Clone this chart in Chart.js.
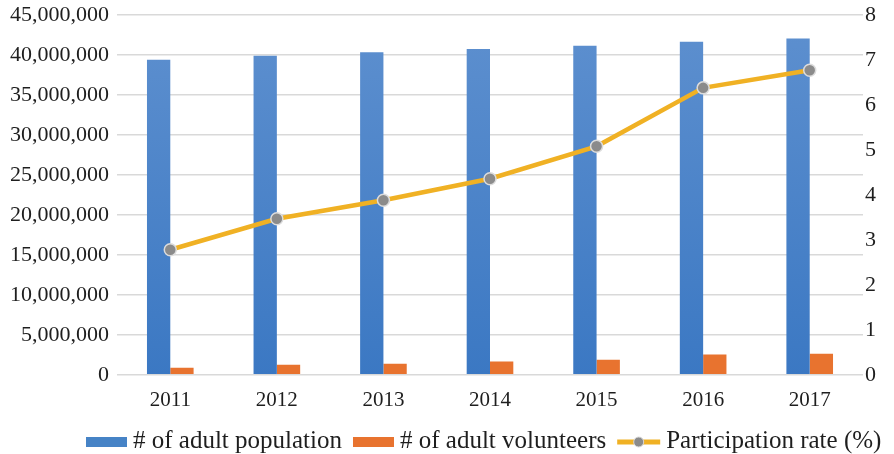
<!DOCTYPE html>
<html>
<head>
<meta charset="utf-8">
<script src="https://cdn.jsdelivr.net/npm/chart.js@4/dist/chart.umd.min.js"></script>
<style>
  html, body { margin: 0; padding: 0; background: #ffffff; }
  #wrap { width: 894px; height: 454px; position: relative; }
</style>
</head>
<body>
<div id="wrap"><canvas id="chart" width="894" height="454"></canvas></div>
<script>
// Adult volunteering, 2011–2017
const years = ['2011', '2012', '2013', '2014', '2015', '2016', '2017'];
const adultPopulation = [39400000, 39900000, 40350000, 40750000, 41150000, 41650000, 42050000];
const adultVolunteers = [880000, 1250000, 1380000, 1670000, 1880000, 2540000, 2630000];
const participationRate = [2.78, 3.47, 3.88, 4.36, 5.08, 6.38, 6.77];
const seriesNames = ['# of adult population', '# of adult volunteers', 'Participation rate (%)'];

const FONT = '"Liberation Serif", "Times New Roman", serif';
const TEXT = '#1e1e1e';
const BLUE = '#4683c6';
const BLUE_TOP = '#5e90cf';
const BLUE_BOTTOM = '#3b78c3';
const ORANGE = '#e8732f';
const GOLD = '#f0b124';
const GREY_PT = '#8b8b8b';

// Vertical shading for the population bars
function blueFill(context) {
  const area = context.chart.chartArea;
  if (!area) return BLUE;
  const g = context.chart.ctx.createLinearGradient(0, area.top, 0, area.bottom);
  g.addColorStop(0, BLUE_TOP);
  g.addColorStop(1, BLUE_BOTTOM);
  return g;
}

// Let the tick labels overhang the plot instead of shrinking it
function fixedWidth(w) {
  return function (scale) {
    scale.width = w;
    scale.paddingTop = 0;
    scale.paddingBottom = 0;
  };
}

// Legend drawn along the bottom: swatch, then label
const bottomLegend = {
  id: 'bottomLegend',
  afterDraw(chart) {
    const c = chart.ctx;
    const ds = chart.data.datasets;
    const items = [
      { text: ds[1].label, kind: 'bar', color: BLUE },
      { text: ds[2].label, kind: 'bar', color: ORANGE },
      { text: ds[0].label, kind: 'line', color: GOLD }
    ];
    const y = 441;
    let x = 86;
    c.save();
    c.font = '25px ' + FONT;
    c.textBaseline = 'middle';
    items.forEach(it => {
      if (it.kind === 'bar') {
        c.fillStyle = it.color;
        c.fillRect(x, y - 4, 41, 10);
      } else {
        c.strokeStyle = it.color;
        c.lineWidth = 5;
        c.beginPath(); c.moveTo(x, y + 1); c.lineTo(x + 43, y + 1); c.stroke();
        c.fillStyle = GREY_PT;
        c.strokeStyle = '#d8d8d8';
        c.lineWidth = 1;
        c.beginPath(); c.arc(x + 21.5, y + 1, 5, 0, Math.PI * 2); c.fill(); c.stroke();
      }
      x += (it.kind === 'bar' ? 41 : 43) + 6;
      c.fillStyle = TEXT;
      c.fillText(it.text, x, y);
      x += c.measureText(it.text).width + 11;
    });
    c.restore();
  }
};

const ctx = document.getElementById('chart').getContext('2d');
new Chart(ctx, {
  type: 'bar',
  data: {
    labels: years,
    datasets: [
      {
        type: 'line',
        label: seriesNames[2],
        data: participationRate,
        yAxisID: 'yRate',
        borderColor: GOLD,
        borderWidth: 4.5,
        pointBackgroundColor: GREY_PT,
        pointBorderColor: '#dcdcdc',
        pointBorderWidth: 1.5,
        pointRadius: 6,
        tension: 0,
        order: 0
      },
      {
        label: seriesNames[0],
        data: adultPopulation,
        yAxisID: 'yCount',
        backgroundColor: blueFill,
        categoryPercentage: 0.4375,
        barPercentage: 1.0,
        order: 1
      },
      {
        label: seriesNames[1],
        data: adultVolunteers,
        yAxisID: 'yCount',
        backgroundColor: ORANGE,
        categoryPercentage: 0.4375,
        barPercentage: 1.0,
        order: 2
      }
    ]
  },
  plugins: [bottomLegend],
  options: {
    responsive: false,
    animation: false,
    layout: { padding: { top: 15, bottom: 36, left: 0, right: 0 } },
    plugins: {
      tooltip: { enabled: false },
      legend: { display: false }
    },
    scales: {
      x: {
        grid: { display: false },
        border: { display: false },
        ticks: { font: { family: FONT, size: 21 }, color: TEXT, padding: 5 }
      },
      yCount: {
        position: 'left',
        min: 0,
        max: 45000000,
        ticks: {
          stepSize: 5000000,
          font: { family: FONT, size: 22 },
          color: TEXT,
          padding: 8,
          callback: v => v.toLocaleString('en-US')
        },
        grid: { color: '#d9d9d9', lineWidth: 1.5, drawTicks: false },
        border: { display: false },
        afterFit: fixedWidth(117)
      },
      yRate: {
        position: 'right',
        min: 0,
        max: 8,
        ticks: {
          stepSize: 1,
          font: { family: FONT, size: 22 },
          color: TEXT,
          padding: 2
        },
        grid: { display: false, drawTicks: false },
        border: { display: false },
        afterFit: fixedWidth(31)
      }
    }
  }
});
</script>
</body>
</html>
